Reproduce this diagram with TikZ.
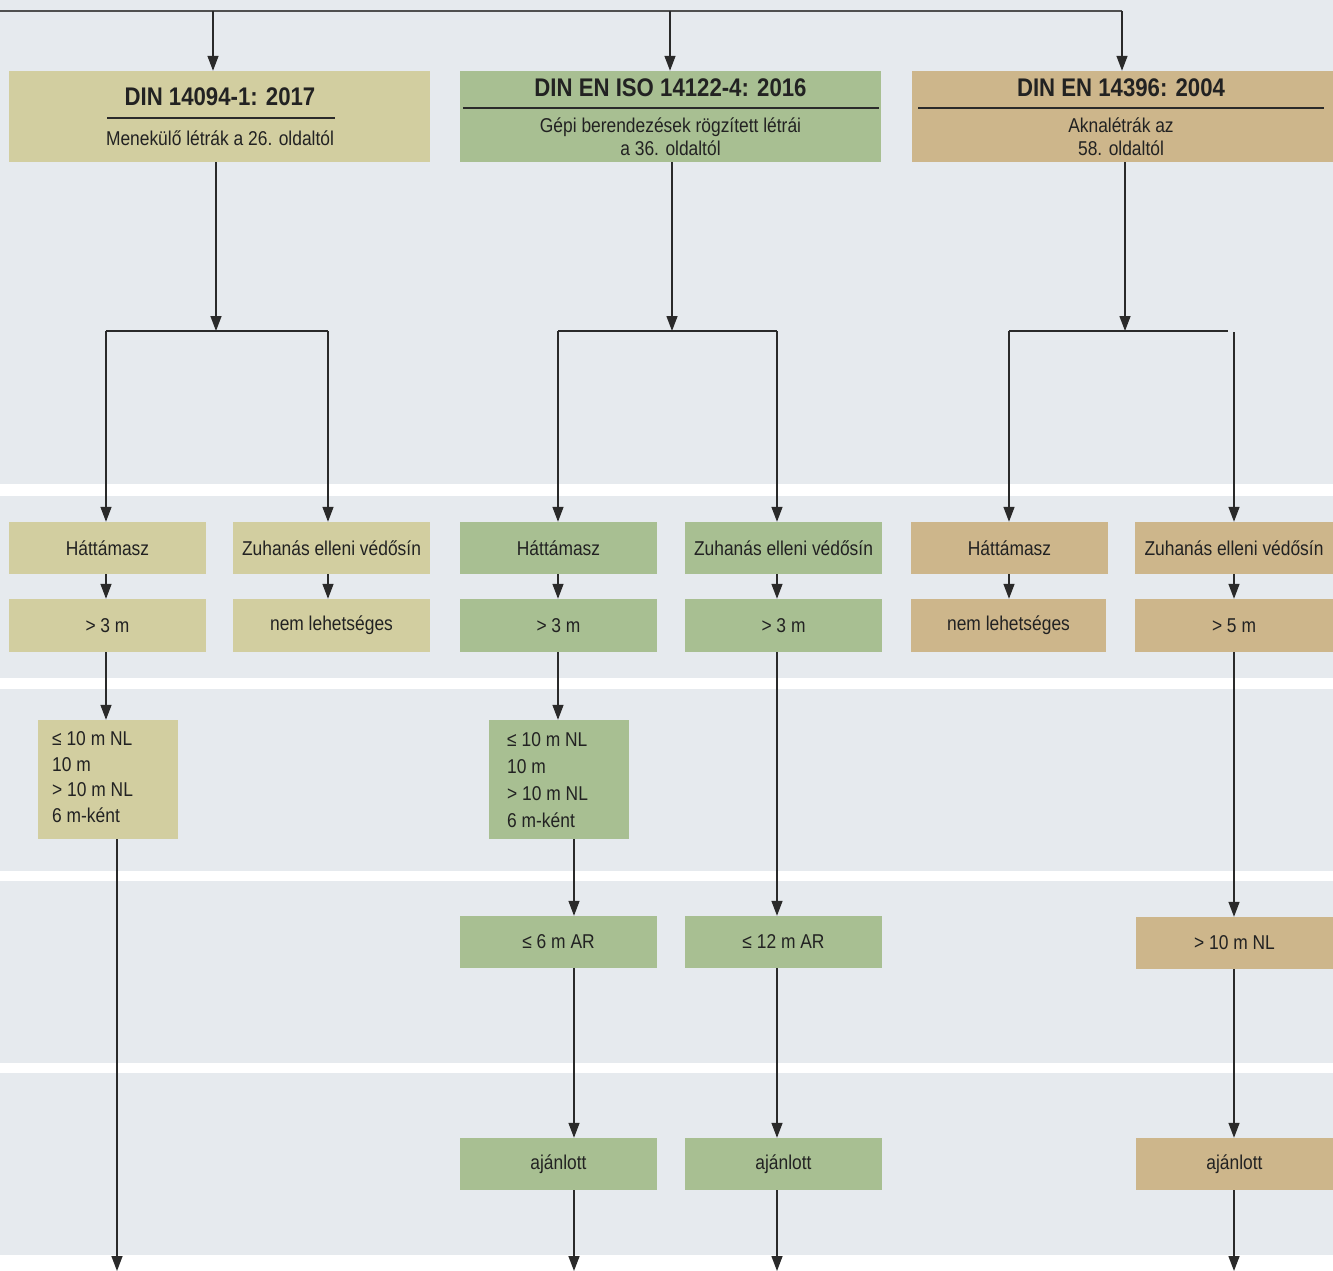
\documentclass[tikz,border=0pt]{standalone}
\usepackage{fontspec}
\setmainfont{Liberation Sans}[FakeStretch=0.87]
\usetikzlibrary{arrows.meta}
\definecolor{bg}{HTML}{E6EAEE}
\definecolor{cA}{HTML}{D2CEA0}
\definecolor{cB}{HTML}{A8BF92}
\definecolor{cC}{HTML}{CDB68B}
\definecolor{ink}{HTML}{222222}
\definecolor{lncol}{HTML}{2A2A2A}
\definecolor{topcol}{HTML}{505050}
\begin{document}
\begin{tikzpicture}[x=1pt,y=-1pt,
  box/.style={rectangle, inner sep=0pt, minimum width=197pt, minimum height=52pt, text=ink, font=\fontsize{20}{24}\selectfont},
  head/.style={rectangle, inner sep=0pt, minimum width=421pt, minimum height=91pt},
  ttl/.style={inner sep=0pt, text=ink, font=\fontsize{25.5}{28}\selectfont\bfseries},
  sub/.style={inner sep=0pt, text=ink, align=center, font=\fontsize{20}{23}\selectfont},
  lst/.style={inner sep=0pt, text=ink, align=left, anchor=west},
  conn/.style={draw=lncol, line width=1.4pt},
  arr/.style={draw=lncol, line width=1.4pt, -{Triangle[length=15pt,width=11pt]}},
  rule/.style={draw=lncol, line width=1.3pt}
]
\useasboundingbox (0,0) rectangle (1333,1271);
\fill[white] (0,0) rectangle (1333,1271);
% background bands
\fill[bg] (0,0) rectangle (1333,484);
\fill[bg] (0,496) rectangle (1333,678);
\fill[bg] (0,689) rectangle (1333,871);
\fill[bg] (0,881) rectangle (1333,1063);
\fill[bg] (0,1073) rectangle (1333,1255);

% header boxes
\node[head, fill=cA] (t1) at (219.5,116.5) {};
\node[head, fill=cB] (t2) at (670.5,116.5) {};
\node[head, fill=cC] (t3) at (1122.5,116.5) {};
\node[ttl] (t1t) at (220,97) {DIN 14094-1: 2017};
\draw[rule] (107,118) -- (335,118);
\node[sub] (t1s) at (220,138.5) {Menekülő létrák a 26. oldaltól};
\node[ttl] (t2t) at (670.5,88) {DIN EN ISO 14122-4: 2016};
\draw[rule] (463,108) -- (879,108);
\node[sub] (t2s) at (670.5,137) {Gépi berendezések rögzített létrái\\a 36. oldaltól};
\node[ttl] (t3t) at (1121,88) {DIN EN 14396: 2004};
\draw[rule] (918,108) -- (1324,108);
\node[sub] (t3s) at (1121,137) {Aknalétrák az\\58. oldaltól};

% row 2
\node[box, fill=cA] (a1) at (107.5,548) {Háttámasz};
\node[box, fill=cA] (b1) at (331.5,548) {Zuhanás elleni védősín};
\node[box, fill=cB] (a2) at (558.5,548) {Háttámasz};
\node[box, fill=cB] (b2) at (783.5,548) {Zuhanás elleni védősín};
\node[box, fill=cC] (a3) at (1009.5,548) {Háttámasz};
\node[box, fill=cC, minimum width=198pt] (b3) at (1234,548) {Zuhanás elleni védősín};
% row 3
\node[box, fill=cA, minimum height=53pt] (c1) at (107.5,625.5) {> 3 m};
\node[box, fill=cA, minimum height=53pt] (d1) at (331.5,625.5) {nem lehetséges};
\node[box, fill=cB, minimum height=53pt] (c2) at (558.5,625.5) {> 3 m};
\node[box, fill=cB, minimum height=53pt] (d2) at (783.5,625.5) {> 3 m};
\node[box, fill=cC, minimum height=53pt, minimum width=195pt] (c3) at (1008.5,625.5) {nem lehetséges};
\node[box, fill=cC, minimum height=53pt, minimum width=198pt] (d3) at (1234,625.5) {> 5 m};
% row 4
\node[box, fill=cA, minimum width=140pt, minimum height=119pt] (e1) at (108,779.5) {};
\node[lst, font=\fontsize{20}{25.5}\selectfont] (e1t) at (52,777) {≤ 10 m NL\\10 m\\> 10 m NL\\6 m-ként};
\node[box, fill=cB, minimum width=140pt, minimum height=119pt] (e2) at (559,779.5) {};
\node[lst, font=\fontsize{20}{27}\selectfont] (e2t) at (507,780) {≤ 10 m NL\\10 m\\> 10 m NL\\6 m-ként};
% row 5
\node[box, fill=cB] (f2) at (558.5,942) {≤ 6 m AR};
\node[box, fill=cB] (g2) at (783.5,942) {≤ 12 m AR};
\node[box, fill=cC] (h3) at (1234.5,943) {> 10 m NL};
% row 6
\node[box, fill=cB] (i2) at (558.5,1164) {ajánlott};
\node[box, fill=cB] (j2) at (783.5,1164) {ajánlott};
\node[box, fill=cC] (k3) at (1234.5,1164) {ajánlott};

% column coordinates
\coordinate (x1L) at (106,0);
\coordinate (x1R) at (328,0);
\coordinate (x2L) at (558,0);
\coordinate (x2R) at (777,0);
\coordinate (x3L) at (1009,0);
\coordinate (x3R) at (1234,0);
\coordinate (x2m) at (574,0);

% top distribution line
\coordinate (o) at (0,11);
\coordinate (tk1) at (213,11);
\coordinate (tk2) at (670,11);
\coordinate (tk3) at (1122,11);
\draw[conn, draw=topcol] (o) -- (tk3);
\draw[arr] (tk1) -- (t1.north -| tk1);
\draw[arr] (tk2) -- (t2.north -| tk2);
\draw[arr] (tk3) -- (t3.north -| tk3);

% splits
\coordinate (s1) at (216,331);
\draw[arr] (t1.south -| s1) -- (s1);
\draw[conn] (s1 -| x1L) -- (s1 -| x1R);
\draw[arr] (s1 -| x1L) -- (a1.north -| x1L);
\draw[arr] (s1 -| x1R) -- (b1.north -| x1R);

\coordinate (s2) at (672,331);
\draw[arr] (t2.south -| s2) -- (s2);
\draw[conn] (s2 -| x2L) -- (s2 -| x2R);
\draw[arr] (s2 -| x2L) -- (a2.north -| x2L);
\draw[arr] (s2 -| x2R) -- (b2.north -| x2R);

\coordinate (s3) at (1125,331);
\coordinate (s3e) at (1228,331);
\coordinate (s3r) at (1234,332);
\draw[arr] (t3.south -| s3) -- (s3);
\draw[conn] (s3 -| x3L) -- (s3e);
\draw[arr] (s3 -| x3L) -- (a3.north -| x3L);
\draw[arr] (s3r) -- (b3.north -| s3r);

% row 2 -> row 3
\draw[arr] (a1.south -| x1L) -- (c1.north -| x1L);
\draw[arr] (b1.south -| x1R) -- (d1.north -| x1R);
\draw[arr] (a2.south -| x2L) -- (c2.north -| x2L);
\draw[arr] (b2.south -| x2R) -- (d2.north -| x2R);
\draw[arr] (a3.south -| x3L) -- (c3.north -| x3L);
\draw[arr] (b3.south -| x3R) -- (d3.north -| x3R);

% lower chains
\draw[arr] (c1.south -| x1L) -- (e1.north -| x1L);
\coordinate (z1) at (117,1271);
\draw[arr] (e1.south -| z1) -- (z1);

\draw[arr] (c2.south -| x2L) -- (e2.north -| x2L);
\draw[arr] (e2.south -| x2m) -- (f2.north -| x2m);
\draw[arr] (f2.south -| x2m) -- (i2.north -| x2m);
\coordinate (z2) at (574,1271);
\draw[arr] (i2.south -| z2) -- (z2);

\draw[arr] (d2.south -| x2R) -- (g2.north -| x2R);
\draw[arr] (g2.south -| x2R) -- (j2.north -| x2R);
\coordinate (z3) at (777,1271);
\draw[arr] (j2.south -| z3) -- (z3);

\draw[arr] (d3.south -| x3R) -- (h3.north -| x3R);
\draw[arr] (h3.south -| x3R) -- (k3.north -| x3R);
\coordinate (z4) at (1234,1271);
\draw[arr] (k3.south -| z4) -- (z4);
\end{tikzpicture}
\end{document}
